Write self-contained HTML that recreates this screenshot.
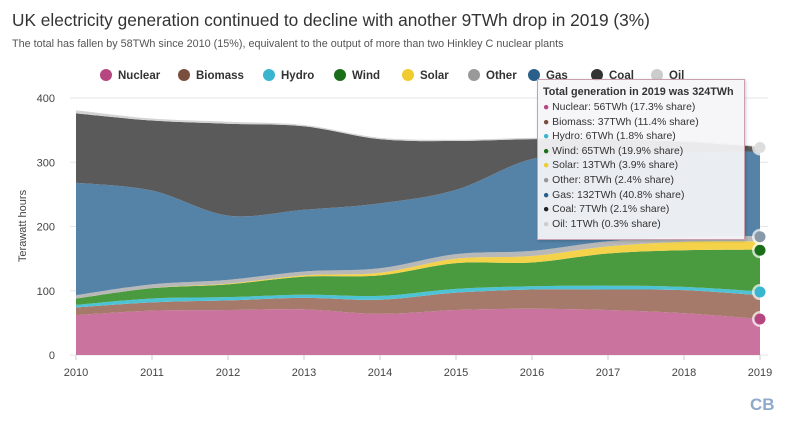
<!DOCTYPE html>
<html><head><meta charset="utf-8">
<style>
body{margin:0;background:#fff;font-family:"Liberation Sans",sans-serif;}
#w{position:relative;width:800px;height:428px;overflow:hidden;background:#fff}
.t{position:absolute;left:12px;top:10px;font-size:17.3px;color:#333;white-space:nowrap}
.s{position:absolute;left:12px;top:38px;font-size:10.8px;color:#555;white-space:nowrap}
.tip{position:absolute;left:537px;top:79px;width:208px;height:161px;background:rgba(245,245,247,0.93);border:1px solid #c9a0b0;box-shadow:1px 1px 3px rgba(0,0,0,.2);font-size:10.4px;color:#333;padding:4px 5px;box-sizing:border-box;white-space:nowrap}
.tip b{display:block;font-size:10.8px;height:17px;line-height:17px}
.tip div{height:14.6px;line-height:14.6px}
.tip i{font-style:normal;font-size:10.4px}
</style></head><body>
<div id="w">
<div class="t">UK electricity generation continued to decline with another 9TWh drop in 2019 (3%)</div>
<div class="s">The total has fallen by 58TWh since 2010 (15%), equivalent to the output of more than two Hinkley C nuclear plants</div>
<svg id="c" width="800" height="428" style="position:absolute;left:0;top:0"></svg>
<div class="tip"><b>Total generation in 2019 was 324TWh</b>
<div><i style="color:#b5467f">●</i> Nuclear: 56TWh (17.3% share)</div>
<div><i style="color:#7a4e3e">●</i> Biomass: 37TWh (11.4% share)</div>
<div><i style="color:#3ab5d0">●</i> Hydro: 6TWh (1.8% share)</div>
<div><i style="color:#1a6e1a">●</i> Wind: 65TWh (19.9% share)</div>
<div><i style="color:#f0cc30">●</i> Solar: 13TWh (3.9% share)</div>
<div><i style="color:#999">●</i> Other: 8TWh (2.4% share)</div>
<div><i style="color:#2a5f8a">●</i> Gas: 132TWh (40.8% share)</div>
<div><i style="color:#222">●</i> Coal: 7TWh (2.1% share)</div>
<div><i style="color:#ccc">●</i> Oil: 1TWh (0.3% share)</div>
</div>
</div>
<script>
var s=document.getElementById('c'),h='';
var X=function(i){return 76+i*76}, Y=function(v){return 355-v*0.6425};
var series=[
['Nuclear','#c9739e','#b5467f',[62,69,70,71,64,70,72,70,65,56]],
['Biomass','#a67a6a','#7a4e3e',[12,13,15,18,22,27,30,32,36,37]],
['Hydro','#4ec3d6','#3ab5d0',[4,6,5,5,6,6,5,6,5,6]],
['Wind','#4a9a40','#1a6e1a',[10,16,20,28,32,40,37,50,57,65]],
['Solar','#f4d24a','#f0cc30',[0,0,1,2,4,7,10,11,13,13]],
['Other','#b8b8b8','#999',[5,6,6,6,7,7,8,8,8,8]],
['Gas','#5583a8','#2a5f8a',[175,146,100,96,101,100,143,136,131,132]],
['Coal','#5a5a5a','#333',[108,109,143,130,100,76,31,23,17,7]],
['Oil','#d4d4d4','#ccc',[5,3,3,2,2,2,2,2,2,1]]];
[0,100,200,300,400].forEach(function(v){h+='<line x1="70" x2="768" y1="'+Y(v)+'" y2="'+Y(v)+'" stroke="#e6e6e6"/>';
h+='<text x="55" y="'+(Y(v)+4)+'" font-size="11" fill="#444" text-anchor="end">'+v+'</text>';});
for(var i=0;i<10;i++){h+='<text x="'+X(i)+'" y="376" font-size="11" fill="#444" text-anchor="middle">'+(2010+i)+'</text>';h+='<line x1="'+X(i)+'" x2="'+X(i)+'" y1="355" y2="360" stroke="#ccc"/>';}
function path(pts){var d='M'+pts[0][0]+','+pts[0][1];for(var i=0;i<pts.length-1;i++){var p0=pts[Math.max(i-1,0)],p1=pts[i],p2=pts[i+1],p3=pts[Math.min(i+2,pts.length-1)];
d+=' C'+(p1[0]+(p2[0]-p0[0])/6)+','+(p1[1]+(p2[1]-p0[1])/6)+' '+(p2[0]-(p3[0]-p1[0])/6)+','+(p2[1]-(p3[1]-p1[1])/6)+' '+p2[0]+','+p2[1];}return d;}
var base=[0,0,0,0,0,0,0,0,0,0];
series.forEach(function(sr){var top=base.map(function(b,i){return b+sr[3][i]});
var tp=top.map(function(v,i){return [X(i),Y(v)]}),bp=base.map(function(v,i){return [X(i),Y(v)]}).reverse();
var d=path(tp)+' L'+bp[0][0]+','+bp[0][1]+path(bp).slice(path(bp).indexOf(' '))+' Z';
h+='<path d="'+d+'" fill="'+sr[1]+'" stroke="none"/>';sr.top=top[9];base=top;});
h+='<text transform="translate(26,226) rotate(-90)" font-size="11" fill="#444" text-anchor="middle">Terawatt hours</text>';
var lx=[100,178,263,334,402,468,528,591,651];
series.forEach(function(sr,i){h+='<circle cx="'+(lx[i]+6)+'" cy="75" r="6" fill="'+sr[2]+'"/><text x="'+(lx[i]+18)+'" y="79" font-size="11.5" font-weight="bold" fill="#333">'+sr[0]+'</text>';});
[[56,'#b5467f'],[98,'#3ab5d0'],[163,'#1a6e1a'],[184,'#8899aa'],[323,'#ddd']].forEach(function(m){h+='<circle cx="760" cy="'+Y(m[0])+'" r="8" fill="#fff" opacity=".7"/><circle cx="760" cy="'+Y(m[0])+'" r="5.5" fill="'+m[1]+'"/>';});
h+='<text x="750" y="410" font-size="17" font-weight="bold" fill="#8fa9c9">CB</text>';
s.innerHTML=h;
</script>
</body></html>
